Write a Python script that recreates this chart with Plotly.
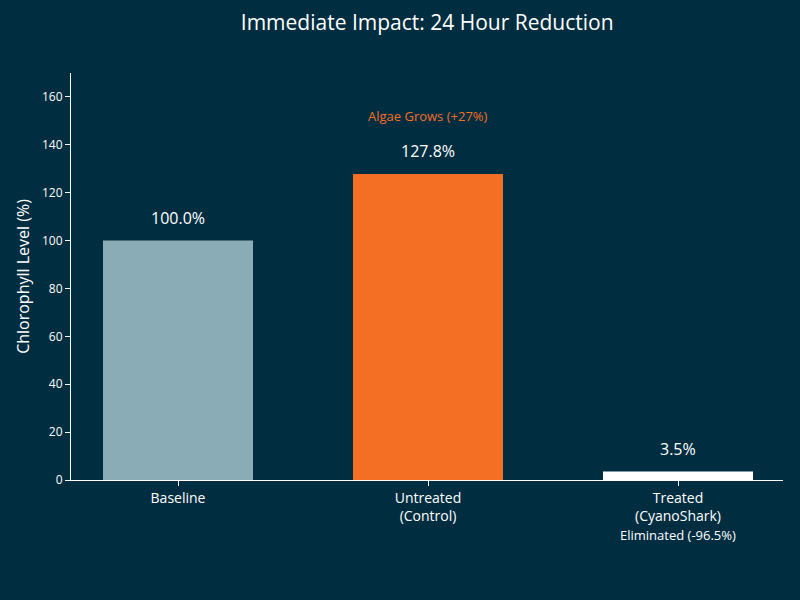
import plotly.graph_objects as go

categories = ["Baseline", "Untreated<br>(Control)", "Treated<br>(CyanoShark)"]
values = [100.0, 127.8, 3.5]
bar_colors = ["#8AACB6", "#F46E24", "#FFFFFF"]
value_labels = ["100.0%", "127.8%", "3.5%"]
note_texts = ["Algae Grows (+27%)", "Eliminated (-96.5%)"]

BG = "#012d40"
FONT = "Open Sans"

fig = go.Figure()
fig.add_trace(go.Bar(
    x=list(range(len(categories))), y=values,
    marker=dict(color=bar_colors, line=dict(width=0)),
    width=0.6, hoverinfo="skip",
))

for i, (v, t) in enumerate(zip(values, value_labels)):
    fig.add_annotation(x=i, y=v, text=t, showarrow=False, yshift=23,
                       font=dict(size=16, color="#FFFFFF", family=FONT))

fig.add_annotation(x=1, y=values[1], text=note_texts[0], showarrow=False, yshift=58,
                   font=dict(size=13, color="#F46E24", family=FONT))
fig.add_annotation(x=2, y=0, text=note_texts[1], showarrow=False, yshift=-55,
                   font=dict(size=13, color="#FFFFFF", family=FONT))

fig.update_layout(
    width=800, height=600,
    paper_bgcolor=BG, plot_bgcolor=BG,
    margin=dict(l=71, r=17, t=73, b=120),
    showlegend=False,
    title=dict(text="Immediate Impact: 24 Hour Reduction", x=0.534, xanchor="center",
               y=0.963, yanchor="middle",
               font=dict(size=21, color="#FFFFFF", family=FONT)),
    font=dict(family=FONT, color="#FFFFFF"),
)
fig.update_xaxes(
    range=[-0.428, 2.42], tickmode="array", tickvals=list(range(len(categories))),
    ticktext=categories, showgrid=False, zeroline=False,
    showline=True, linecolor="#FFFFFF", linewidth=1,
    ticks="outside", ticklen=5, tickcolor="#FFFFFF",
    tickfont=dict(size=14, color="#FFFFFF", family=FONT),
)
fig.update_yaxes(
    range=[0, 170], dtick=20, showgrid=False, zeroline=False,
    showline=True, linecolor="#FFFFFF", linewidth=1,
    ticks="outside", ticklen=5, tickcolor="#FFFFFF",
    tickfont=dict(size=12, color="#FFFFFF", family=FONT),
    title=dict(text="Chlorophyll Level (%)", font=dict(size=16, color="#FFFFFF", family=FONT),
               standoff=8),
)

fig.write_html("out.html", config={"displayModeBar": False},
               post_script="document.body.style.margin='0';")
